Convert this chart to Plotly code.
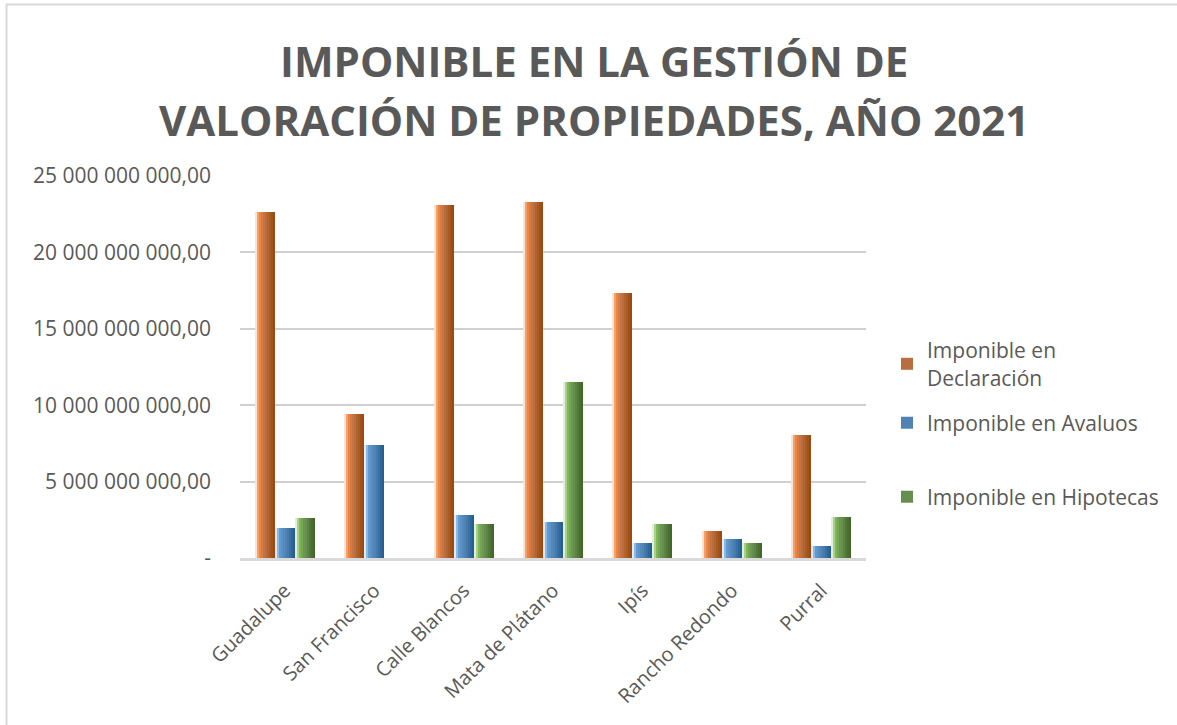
import plotly.graph_objects as go

# Data
distritos = ["Guadalupe", "San Francisco", "Calle Blancos", "Mata de Plátano",
             "Ipís", "Rancho Redondo", "Purral"]
declaracion = [22.65e9, 9.40e9, 23.10e9, 23.30e9, 17.36e9, 1.76e9, 8.03e9]
avaluos = [1.98e9, 7.38e9, 2.80e9, 2.35e9, 0.98e9, 1.24e9, 0.78e9]
hipotecas = [2.59e9, 0.0, 2.20e9, 11.55e9, 2.22e9, 0.98e9, 2.68e9]

y_tickvals = [0, 5e9, 10e9, 15e9, 20e9, 25e9]
y_ticktext = ["-", "5 000 000 000,00", "10 000 000 000,00", "15 000 000 000,00",
              "20 000 000 000,00", "25 000 000 000,00"]

series = [
    ("Imponible en<br>Declaración", declaracion,
     ["#FCE4D4", "#F3A06A", "#EC8442", "#D87B42", "#C47445",
      "#B86E41", "#B0652F", "#A85B25", "#A1521B", "#9C4A12"]),
    ("Imponible en Avaluos", avaluos,
     ["#DDEBF7", "#8DB8E2", "#5F9AD2", "#5A91C6", "#5689BA",
      "#5083B3", "#457AAD", "#3A70A3", "#30679A", "#285F91"]),
    ("Imponible en Hipotecas", hipotecas,
     ["#E2F0D9", "#A9D08E", "#7DB856", "#73A552", "#6C9652",
      "#668E4E", "#5C8445", "#52793A", "#4A7031", "#43682B"]),
]

W, H = 1177, 725
ML, MR, MT, MB = 240, 311, 176, 167
PW, PH = W - ML - MR, H - MT - MB

def px_x(p):
    return (p - ML) / PW

def px_y(p):
    return 1 - (p - MT) / PH

BAR_W = 0.2235
N_STRIPS = len(series[0][2])
strip_w = BAR_W / N_STRIPS
legend_names = ["legend", "legend2", "legend3"]

fig = go.Figure()
for s_idx, (name, values, shades) in enumerate(series):
    base = -1.5 * BAR_W + s_idx * BAR_W
    for k, col in enumerate(shades):
        fig.add_trace(go.Bar(
            x=distritos, y=values,
            width=strip_w * 1.02, offset=base + k * strip_w,
            marker=dict(color=col, line=dict(width=0)),
            name=name, legend=legend_names[s_idx],
            showlegend=(k == 5), hoverinfo="skip",
        ))

text_color = "#595959"
font_family = "Open Sans"

legend_common = dict(
    bgcolor="rgba(0,0,0,0)", font=dict(size=21, color=text_color, family=font_family),
    xanchor="left", yanchor="middle", itemwidth=30, itemsizing="constant",
)
fig.update_layout(
    width=W, height=H,
    margin=dict(l=ML, r=MR, t=MT, b=MB, pad=0, autoexpand=False),
    paper_bgcolor="white", plot_bgcolor="white",
    barmode="overlay", bargap=0,
    font=dict(family=font_family, color=text_color),
    legend=dict(x=px_x(887), y=px_y(364), **legend_common),
    legend2=dict(x=px_x(887), y=px_y(423), **legend_common),
    legend3=dict(x=px_x(887), y=px_y(497), **legend_common),
    xaxis=dict(
        type="category", tickangle=-45, showgrid=False,
        showline=True, linecolor="#D9D9D9", linewidth=3,
        tickfont=dict(size=20, color=text_color), ticks="",
        ticklabelstandoff=10,
        range=[-0.5, len(distritos) - 0.5],
    ),
    yaxis=dict(
        range=[0, 25e9], tickvals=y_tickvals, ticktext=y_ticktext,
        showgrid=True, gridcolor="#D0D0D0", gridwidth=1.5,
        zeroline=False, showline=False, ticks="",
        ticklabelstandoff=28,
        tickfont=dict(size=21, color=text_color),
    ),
    annotations=[
        dict(text="<b>IMPONIBLE EN LA GESTIÓN DE</b>", x=px_x(594), y=px_y(60),
             xref="paper", yref="paper", xanchor="center", yanchor="middle",
             showarrow=False,
             font=dict(size=42, color=text_color, family=font_family)),
        dict(text="<b>VALORACIÓN DE PROPIEDADES, AÑO 2021</b>", x=px_x(594), y=px_y(119),
             xref="paper", yref="paper", xanchor="center", yanchor="middle",
             showarrow=False,
             font=dict(size=42, color=text_color, family=font_family)),
    ],
    shapes=[
        dict(type="line", xref="paper", yref="paper",
             x0=px_x(6), x1=px_x(1177), y0=px_y(4.5), y1=px_y(4.5),
             line=dict(color="#D9D9D9", width=2)),
        dict(type="line", xref="paper", yref="paper",
             x0=px_x(6.5), x1=px_x(6.5), y0=px_y(4), y1=px_y(725),
             line=dict(color="#D9D9D9", width=2)),
    ],
)

fig.write_html("out.html")
